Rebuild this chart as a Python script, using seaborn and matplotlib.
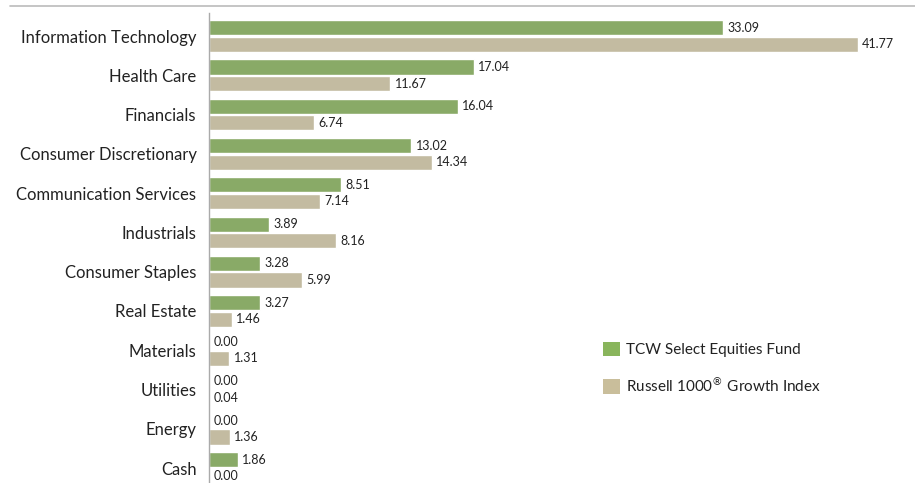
import numpy as np
import pandas as pd
import seaborn as sns
import matplotlib.pyplot as plt
from matplotlib.lines import Line2D
from matplotlib.patches import Patch

# Sector weights (%)
sectors = ['Information Technology', 'Health Care', 'Financials', 'Consumer Discretionary',
           'Communication Services', 'Industrials', 'Consumer Staples', 'Real Estate',
           'Materials', 'Utilities', 'Energy', 'Cash']
fund = [33.09, 17.04, 16.04, 13.02, 8.51, 3.89, 3.28, 3.27, 0.00, 0.00, 0.00, 1.86]
index = [41.77, 11.67, 6.74, 14.34, 7.14, 8.16, 5.99, 1.46, 1.31, 0.04, 1.36, 0.00]
series_names = ['TCW Select Equities Fund', 'Russell 1000$^{\u00ae}$ Growth Index']
colors = ['#89B55C', '#C9BE9B']

df = pd.DataFrame({
    'Sector': sectors * 2,
    'Weight': fund + index,
    'Series': [series_names[0]] * len(sectors) + [series_names[1]] * len(sectors),
})

sns.set_style('white')
plt.rcParams['font.family'] = ['Lato', 'DejaVu Sans']

fig = plt.figure(figsize=(9.15, 4.83), dpi=100)
ax = fig.add_axes([209 / 915, 0, 1 - 209 / 915, 470 / 483])

sns.barplot(data=df, y='Sector', x='Weight', hue='Series', orient='h',
            palette=colors, width=0.84, gap=0.08, ax=ax, legend=False)

for cont in ax.containers:
    ax.bar_label(cont, fmt='%.2f', padding=3, fontsize=9, color='#222222')

ax.set_xlim(0, (915 - 209) / 15.54)
ax.set_ylim(11.38, -0.586)
ax.set_xlabel('')
ax.set_ylabel('')
ax.set_xticks([])
ax.tick_params(axis='y', length=0, pad=9, labelsize=12, labelcolor='#222222')
for s in ['top', 'right', 'bottom']:
    ax.spines[s].set_visible(False)
ax.spines['left'].set_color('#AAAAAA')
ax.spines['left'].set_linewidth(1)

# top rule
fig.add_artist(Line2D([10 / 915, 1], [1 - 6 / 483, 1 - 6 / 483],
                      color='#BBBBBB', linewidth=1.2, transform=fig.transFigure))

handles = [Patch(facecolor=c, edgecolor='none') for c in colors]
fig.legend(handles, series_names, loc='upper left', bbox_to_anchor=(589 / 915, 1 - 328 / 483),
           frameon=False, fontsize=11, handlelength=1.1, handleheight=1.1,
           handletextpad=0.4, labelspacing=1.2, labelcolor='#222222')

fig.savefig('out.png', dpi=100)
